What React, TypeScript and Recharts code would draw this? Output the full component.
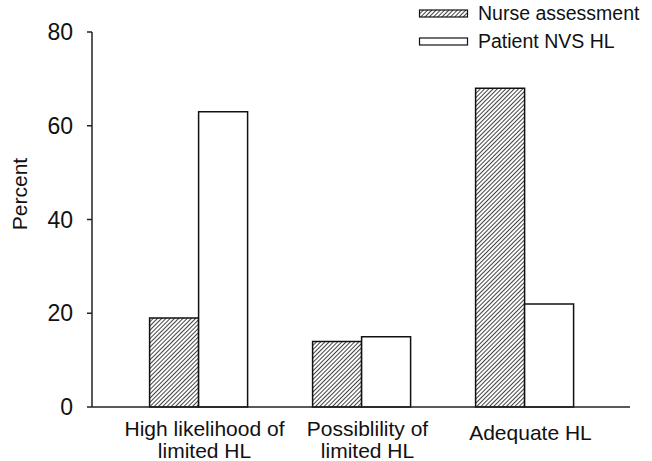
import { BarChart, Bar, XAxis, YAxis, Label } from 'recharts';

const categories = ['High likelihood of\nlimited HL', 'Possiblility of\nlimited HL', 'Adequate HL'];
const nurseValues = [19, 14, 68];
const patientValues = [63, 15, 22];
const yTicks = [0, 20, 40, 60, 80];
const seriesNames = ['Nurse assessment', 'Patient NVS HL'];

const FONT = '"Liberation Sans", Arial, Helvetica, sans-serif';

const data = categories.map((name, i) => ({
  name,
  nurse: nurseValues[i],
  patient: patientValues[i],
}));

function CategoryTick(props: any) {
  const { x, y, payload } = props;
  const lines: string[] = String(payload.value).split('\n');
  const first = lines.length > 1 ? 29 : 33;
  return (
    <g>
      {lines.map((line, i) => (
        <text
          key={i}
          x={x + 6}
          y={y + first + i * 22}
          textAnchor="middle"
          fontSize={21}
          fontFamily={FONT}
          fill="#111"
        >
          {line}
        </text>
      ))}
    </g>
  );
}

// legend drawn as an overlay so it doesn't eat into the plot area
function LegendBox() {
  return (
    <svg
      width={652}
      height={56}
      style={{ position: 'absolute', left: 0, top: 0, pointerEvents: 'none' }}
    >
      <rect x={419.5} y={10} width={48} height={7} fill="url(#hatch)" stroke="#111" strokeWidth={1.2} />
      <text x={478} y={19.5} fontSize={19.5} fontFamily={FONT} fill="#111">{seriesNames[0]}</text>
      <rect x={419.5} y={38} width={48} height={7} fill="#fff" stroke="#111" strokeWidth={1.2} />
      <text x={478} y={48} fontSize={19.5} fontFamily={FONT} fill="#111">{seriesNames[1]}</text>
    </svg>
  );
}

export default function App() {
  return (
    <div style={{ position: 'absolute', left: 0, top: 0, width: 652, height: 461, background: '#fff' }}>
      <BarChart
        width={652}
        height={461}
        data={data}
        margin={{ top: 32, right: 22, bottom: 0, left: 32 }}
        barCategoryGap="20%"
        barGap={0}
      >
        <defs>
          <pattern id="hatch" patternUnits="userSpaceOnUse" width={3} height={3} patternTransform="rotate(45)">
            <rect x={0} y={0} width={3} height={3} fill="#fff" />
            <line x1={0} y1={0} x2={0} y2={3} stroke="#111" strokeWidth={1.6} />
          </pattern>
        </defs>
        <XAxis
          dataKey="name"
          interval={0}
          height={54}
          tickLine={false}
          tickSize={0}
          tickMargin={0}
          padding={{ left: 25, right: 24 }}
          axisLine={{ stroke: '#222', strokeWidth: 1.5 }}
          tick={<CategoryTick />}
        />
        <YAxis
          width={60}
          domain={[0, 80]}
          ticks={yTicks}
          interval={0}
          tickSize={5}
          tickMargin={14}
          axisLine={{ stroke: '#222', strokeWidth: 1.5 }}
          tickLine={{ stroke: '#222', strokeWidth: 1.5 }}
          tick={{ fontSize: 23, fontFamily: FONT, fill: '#111' }}
        >
          <Label
            content={() => (
              <text
                x={27}
                y={194}
                transform="rotate(-90 27 194)"
                textAnchor="middle"
                fontSize={21}
                fontFamily={FONT}
                fill="#111"
              >
                Percent
              </text>
            )}
          />
        </YAxis>
        <Bar dataKey="nurse" name={seriesNames[0]} fill="url(#hatch)" stroke="#111" strokeWidth={1.5} isAnimationActive={false} />
        <Bar dataKey="patient" name={seriesNames[1]} fill="#fff" stroke="#111" strokeWidth={1.5} isAnimationActive={false} />
      </BarChart>
      <LegendBox />
    </div>
  );
}
